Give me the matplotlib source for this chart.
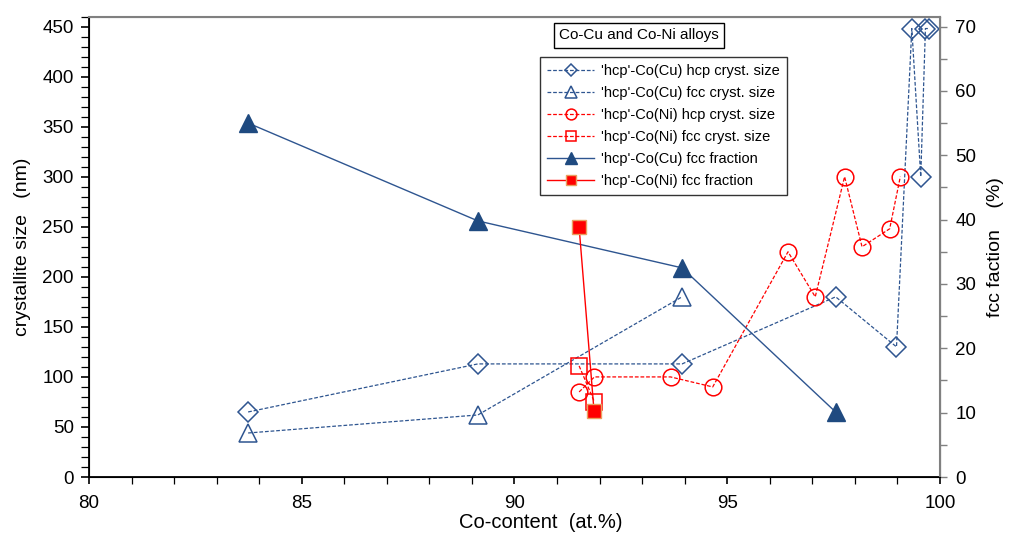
import numpy as np
import matplotlib.pyplot as plt
from matplotlib.ticker import MultipleLocator

plt.rcParams['font.family'] = ['Liberation Sans', 'DejaVu Sans']

# Co(Cu) hcp crystallite size
cu_hcp_x = [83.74, 89.14, 93.94, 97.55, 98.98, 99.34, 99.55, 99.66, 99.75]
cu_hcp_y = [65, 113, 113, 180, 130, 448, 300, 448, 448]
# Co(Cu) fcc crystallite size
cu_fcc_x = [83.74, 89.14, 93.94]
cu_fcc_y = [44, 62, 180]
# Co(Ni) hcp crystallite size
ni_hcp_x = [91.52, 91.88, 93.67, 94.66, 96.43, 97.07, 97.76, 98.17, 98.82, 99.07]
ni_hcp_y = [85, 100, 100, 90, 225, 180, 300, 230, 248, 300]
# Co(Ni) fcc crystallite size
ni_fcc_x = [91.52, 91.88]
ni_fcc_y = [111, 75]
# fcc fractions (%)
cu_frac_x = [83.74, 89.14, 93.94, 97.55]
cu_frac_y = [55, 39.8, 32.5, 10.1]
ni_frac_x = [91.52, 91.87]
ni_frac_y = [38.8, 10.3]

blue = '#2E5590'
red = '#FF0000'

fig = plt.figure(figsize=(10.15, 5.33), dpi=100)
ax = fig.add_axes([0.0877, 0.105, 0.8383, 0.864])
ax2 = ax.twinx()

h1, = ax.plot(cu_hcp_x, cu_hcp_y, ls='--', lw=0.9, dashes=(3, 1.5), color=blue, marker='D', ms=10,
              mfc='none', mec=blue, mew=1.1, label="'hcp'-Co(Cu) hcp cryst. size")
h2, = ax.plot(cu_fcc_x, cu_fcc_y, ls='--', lw=0.9, dashes=(3, 1.5), color=blue, marker='^', ms=13,
              mfc='none', mec=blue, mew=1.1, label="'hcp'-Co(Cu) fcc cryst. size")
h3, = ax.plot(ni_hcp_x, ni_hcp_y, ls='--', lw=0.9, dashes=(3, 1.5), color=red, marker='o', ms=12,
              mfc='none', mec=red, mew=1.1, label="'hcp'-Co(Ni) hcp cryst. size")
h4, = ax.plot(ni_fcc_x, ni_fcc_y, ls='--', lw=0.9, dashes=(3, 1.5), color=red, marker='s', ms=11,
              mfc='none', mec=red, mew=1.1, label="'hcp'-Co(Ni) fcc cryst. size")
h5, = ax2.plot(cu_frac_x, cu_frac_y, ls='-', lw=1.0, color=blue, marker='^', ms=13,
               mfc='#1F4A80', mec='#1F4A80', label="'hcp'-Co(Cu) fcc fraction")
h6, = ax2.plot(ni_frac_x, ni_frac_y, ls='-', lw=1.0, color=red, marker='s', ms=10,
               mfc=red, mec='#E8A060', mew=1.0, label="'hcp'-Co(Ni) fcc fraction")

ax.set_xlim(80, 100)
ax.set_ylim(0, 460)
ax2.set_ylim(0, 70 * 460 / 450)

ax.xaxis.set_major_locator(MultipleLocator(5))
ax.xaxis.set_minor_locator(MultipleLocator(1))
ax.yaxis.set_major_locator(MultipleLocator(50))
ax.yaxis.set_minor_locator(MultipleLocator(10))
ax2.yaxis.set_major_locator(MultipleLocator(10))
ax2.yaxis.set_minor_locator(MultipleLocator(5))

ax.tick_params(which='major', direction='out', length=6, width=1.2, labelsize=13.5, pad=5)
ax.tick_params(which='minor', direction='out', length=6, width=0.9)
ax.tick_params(axis='x', which='both', length=5, pad=8)
ax2.tick_params(which='major', direction='out', length=5, width=1.0, color='#808080', labelsize=13.5, pad=6)
ax2.tick_params(which='minor', direction='out', length=5, width=1.0, color='#808080')

for s in ['left', 'bottom']:
    ax.spines[s].set_linewidth(1.3)
ax.spines['top'].set_color('#808080')
ax2.spines['right'].set_color('#808080')
ax2.spines['right'].set_linewidth(1.5)
ax2.spines['top'].set_color('#808080')
ax2.spines['top'].set_linewidth(1.5)

ax.set_xlabel('Co-content  (at.%)', fontsize=14.5)
ax.xaxis.set_label_coords(0.531, -0.078)
ax.set_ylabel('crystallite size   (nm)', fontsize=14, labelpad=8)
ax2.set_ylabel('fcc faction    (%)', fontsize=14, labelpad=8)

leg = ax2.legend(handles=[h1, h2, h3, h4, h5, h6], loc='upper left',
                 bbox_to_anchor=(0.53, 0.913), borderaxespad=0, fontsize=10.5, markerscale=0.65,
                 handlelength=3.2, frameon=True, fancybox=False, edgecolor='black',
                 borderpad=0.5, labelspacing=0.55, handletextpad=0.5)
leg.get_frame().set_linewidth(1.0)

fig.text(0.551, 0.934, 'Co-Cu and Co-Ni alloys', fontsize=11, ha='left', va='center',
         bbox=dict(boxstyle='square,pad=0.35', fc='white', ec='black', lw=1.0))

plt.savefig('out.png', dpi=100)
